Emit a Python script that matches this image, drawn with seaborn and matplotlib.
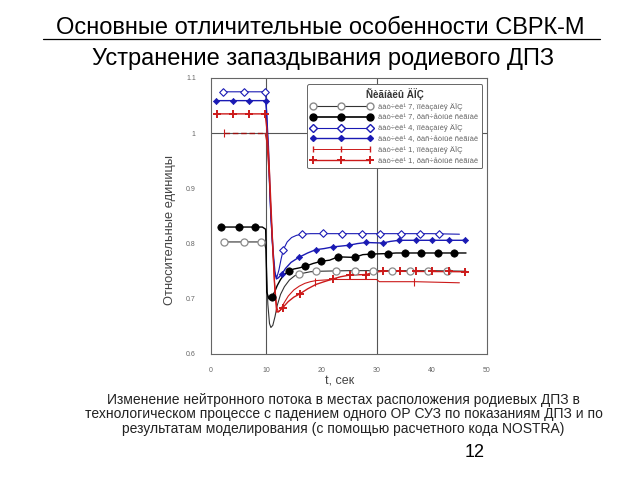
import matplotlib
matplotlib.use("Agg")
import matplotlib.pyplot as plt
from matplotlib.lines import Line2D
from matplotlib.ticker import MultipleLocator, FixedLocator, FixedFormatter
import seaborn as sns

sns.set_style("white")
plt.rcParams['font.family'] = ['Liberation Sans', 'DejaVu Sans']

# ---- data ----
legend_title = "Ñèãíàëû ÄÏÇ"
labels = ["äàò÷èê¹ 7, ïîêàçàíèÿ ÄÏÇ",
          "äàò÷èê¹ 7, ðàñ÷åòíûé ñèãíàë",
          "äàò÷èê¹ 4, ïîêàçàíèÿ ÄÏÇ",
          "äàò÷èê¹ 4, ðàñ÷åòíûé ñèãíàë",
          "äàò÷èê¹ 1, ïîêàçàíèÿ ÄÏÇ",
          "äàò÷èê¹ 1, ðàñ÷åòíûé ñèãíàë"]

t1 = [2.4, 9.6, 9.95, 10.1, 10.3, 10.6, 10.85, 11.2, 11.6, 12.0, 12.6, 13.3, 14.2, 15.2, 16.5, 18.0, 20.0, 25.0, 30.0, 35.0, 40.0, 46.2]
v1 = [0.803, 0.803, 0.790, 0.740, 0.690, 0.655, 0.648, 0.652, 0.668, 0.688, 0.708, 0.722, 0.734, 0.742, 0.746, 0.749, 0.750, 0.751, 0.751, 0.751, 0.751, 0.750]
m1t = [2.4, 5.9, 9.1, 16.0, 19.1, 22.6, 26.0, 29.4, 32.8, 36.0, 39.4, 42.7]
m1v = [0.803, 0.803, 0.803, 0.745, 0.750, 0.750, 0.750, 0.750, 0.751, 0.750, 0.750, 0.751]

t2 = [1.8, 9.3, 9.9, 10.0, 10.1, 10.5, 11.0, 11.5, 12.0, 12.6, 13.2, 14.0, 15.0, 16.0, 17.1, 18.5, 20.0, 21.5, 23.0, 26.0, 27.5, 29.0, 32.1, 33.5, 35.1, 46.2]
v2 = [0.830, 0.830, 0.826, 0.780, 0.712, 0.700, 0.703, 0.712, 0.724, 0.735, 0.743, 0.750, 0.754, 0.756, 0.759, 0.764, 0.768, 0.770, 0.776, 0.775, 0.780, 0.781, 0.782, 0.783, 0.783, 0.783]
m2t = [1.8, 5.0, 8.0, 11.0, 14.06, 17.1, 20.0, 23.0, 26.0, 29.0, 32.1, 35.1, 38.0, 41.1, 44.1]
m2v = [0.830, 0.830, 0.830, 0.703, 0.750, 0.759, 0.768, 0.776, 0.775, 0.781, 0.782, 0.783, 0.783, 0.783, 0.783]

t3 = [2.2, 9.8, 10.0, 10.3, 10.7, 11.1, 11.5, 11.9, 12.3, 12.7, 13.1, 13.8, 14.6, 15.5, 16.5, 18.0, 20.0, 25.0, 30.0, 35.0, 40.0, 45.0]
v3 = [1.075, 1.075, 1.060, 0.980, 0.880, 0.800, 0.750, 0.738, 0.752, 0.772, 0.789, 0.803, 0.811, 0.815, 0.817, 0.818, 0.818, 0.818, 0.818, 0.818, 0.818, 0.817]
m3t = [2.2, 6.0, 9.8, 13.0, 16.5, 20.2, 23.7, 27.3, 30.6, 34.4, 37.9, 41.3]
m3v = [1.075, 1.075, 1.075, 0.789, 0.818, 0.819, 0.818, 0.818, 0.818, 0.818, 0.818, 0.818]

t4 = [0.9, 9.9, 10.05, 10.4, 10.85, 11.3, 11.6, 11.85, 12.2, 12.85, 13.5, 14.5, 15.9, 17.5, 19.0, 20.5, 22.1, 25.0, 26.5, 28.1, 31.1, 32.5, 34.1, 46.1]
v4 = [1.059, 1.059, 1.040, 0.976, 0.849, 0.780, 0.746, 0.736, 0.738, 0.745, 0.755, 0.766, 0.775, 0.783, 0.789, 0.791, 0.794, 0.797, 0.800, 0.802, 0.801, 0.804, 0.806, 0.806]
m4t = [0.9, 3.9, 6.9, 9.9, 12.85, 15.9, 19.0, 22.1, 25.0, 28.1, 31.1, 34.1, 37.1, 40.1, 43.1, 46.1]
m4v = [1.059, 1.059, 1.059, 1.059, 0.745, 0.775, 0.789, 0.794, 0.797, 0.802, 0.801, 0.806, 0.806, 0.806, 0.806, 0.806]

t5 = [2.4, 9.8, 10.1, 10.5, 11.0, 11.5, 11.9, 12.2, 12.6, 13.2, 14.0, 15.0, 16.0, 17.0, 18.0, 19.0, 22.0, 26.0, 30.0, 30.5, 37.0, 45.0]
v5 = [1.000, 1.000, 0.985, 0.930, 0.830, 0.730, 0.685, 0.676, 0.680, 0.692, 0.705, 0.716, 0.723, 0.728, 0.731, 0.733, 0.735, 0.735, 0.735, 0.731, 0.731, 0.729]
m5t = [2.4, 18.9, 36.8]
m5v = [1.000, 0.731, 0.730]

t6 = [1.0, 9.8, 10.1, 10.5, 10.9, 11.3, 11.6, 11.9, 12.3, 13.0, 14.0, 15.0, 16.1, 17.5, 19.0, 20.5, 22.1, 23.5, 25.1, 28.1, 29.5, 31.2, 46.1]
v6 = [1.035, 1.035, 1.010, 0.950, 0.860, 0.770, 0.710, 0.676, 0.677, 0.684, 0.695, 0.703, 0.709, 0.718, 0.726, 0.731, 0.736, 0.740, 0.743, 0.744, 0.748, 0.750, 0.749]
m6t = [1.0, 3.9, 6.9, 9.8, 13.0, 16.1, 22.1, 25.1, 28.1, 31.2, 34.2, 37.1, 40.1, 43.1, 46.1]
m6v = [1.035, 1.035, 1.035, 1.035, 0.684, 0.709, 0.736, 0.743, 0.744, 0.750, 0.750, 0.750, 0.750, 0.750, 0.749]

x_ticks = [0, 10, 20, 30, 40, 50]
y_ticks = [0.6, 0.7, 0.8, 0.9, 1.0, 1.1]
y_tick_labels = ["0.6", "0.7", "0.8", "0.9", "1", "1.1"]

BLUE = "#1a1ab4"
RED = "#cc1a1a"
GRAY = "#8a8a8a"

fig = plt.figure(figsize=(6.4, 4.8), dpi=100)
ax = fig.add_axes([211/640, 1-354/480, 276/640, 276/480])

# grid lines (sparse, as in reference)
for gx in [10, 30]:
    ax.axvline(gx, color="#555555", lw=0.8, zorder=0)
ax.axhline(1.0, color="#555555", lw=0.8, zorder=0)

def draw(t, v, mt, mv, lcolor, lw, marker, mface, medge, ms, mlw, ls="-"):
    sns.lineplot(x=t, y=v, sort=False, estimator=None, color=lcolor, lw=lw, ax=ax, linestyle=ls, zorder=2)
    if not mt:
        return
    if marker in ("|", "+"):
        sns.scatterplot(x=mt, y=mv, marker=marker, color=medge, s=ms, linewidth=mlw, ax=ax, zorder=3)
    else:
        sns.scatterplot(x=mt, y=mv, marker=marker, facecolor=mface, edgecolor=medge, s=ms, linewidth=mlw, ax=ax, zorder=3)

draw(t1, v1, m1t, m1v, "#333333", 0.8, "o", "white", GRAY, 26, 0.9)
draw(t2, v2, m2t, m2v, "black", 1.0, "o", "black", "black", 28, 0.5)
draw(t3, v3, m3t, m3v, BLUE, 0.8, "D", "white", BLUE, 15, 0.8)
draw(t4, v4, m4t, m4v, BLUE, 1.0, "D", BLUE, BLUE, 10, 0.5)
draw(t5[1:], v5[1:], [], [], RED, 0.8, "|", "none", RED, 30, 0.8)
sns.lineplot(x=t5[:2], y=v5[:2], sort=False, estimator=None, color="#991010", lw=1.0, ax=ax, linestyle=(0, (4, 2)), zorder=2)
sns.scatterplot(x=m5t, y=m5v, marker="|", color=RED, s=40, linewidth=0.8, ax=ax, zorder=3)
draw(t6, v6, m6t, m6v, RED, 1.0, "+", "none", RED, 40, 1.4)

ax.set_xlim(0, 50)
ax.set_ylim(0.6, 1.1)
ax.xaxis.set_major_locator(FixedLocator(x_ticks))
ax.xaxis.set_minor_locator(MultipleLocator(5))
ax.yaxis.set_major_locator(FixedLocator(y_ticks))
ax.yaxis.set_major_formatter(FixedFormatter(y_tick_labels))
ax.yaxis.set_minor_locator(MultipleLocator(0.02))
ax.tick_params(which="major", direction="out", length=3, width=0.6, labelsize=5, colors="#666666", pad=8)
ax.tick_params(which="minor", direction="out", length=2, width=0.5, colors="#666666")
ax.tick_params(axis="x", pad=6)
for s in ax.spines.values():
    s.set_color("#666666")
    s.set_linewidth(0.8)

ax.set_xlabel("t, сек", fontsize=9, color="#444444")
ax.set_ylabel("Относительные единицы", fontsize=9.3, color="#444444")
ax.xaxis.set_label_coords(0.464, -0.101)
ax.yaxis.set_label_coords(-0.149, 0.45)
ax.xaxis.label.set_va("center")
ax.yaxis.label.set_va("center")

handles = [
    Line2D([], [], color="#333333", lw=0.8, marker="o", mfc="white", mec=GRAY, ms=5),
    Line2D([], [], color="black", lw=1.2, marker="o", mfc="black", mec="black", ms=5),
    Line2D([], [], color=BLUE, lw=0.8, marker="D", mfc="white", mec=BLUE, ms=4),
    Line2D([], [], color=BLUE, lw=1.0, marker="D", mfc=BLUE, mec=BLUE, ms=3),
    Line2D([], [], color=RED, lw=0.7, marker="|", mec=RED, ms=5),
    Line2D([], [], color=RED, lw=1.0, marker="+", mec=RED, mew=1.4, ms=6),
]
leg = ax.legend(handles, labels, title=legend_title, loc="upper right",
                bbox_to_anchor=(0.982, 0.978), borderaxespad=0, fontsize=5.5, title_fontsize=7,
                numpoints=3, handlelength=8.0, labelspacing=0.42, handletextpad=0.8,
                frameon=True, fancybox=True, framealpha=1, edgecolor="#666666",
                borderpad=0.5)
leg.get_title().set_fontweight("bold")
leg.get_title().set_color("#333333")
leg.get_frame().set_linewidth(0.7)
for tx in leg.get_texts():
    tx.set_color("#666666")

fig.text(0.5, 0.942, "Основные отличительные особенности СВРК-М", ha="center", va="center", fontsize=17, color="black")
# underline
fig.add_artist(Line2D([43/640, 600/640], [1-39/480, 1-39/480], color="black", lw=0.9))
fig.text(0.505, 0.877, "Устранение запаздывания родиевого ДПЗ", ha="center", va="center", fontsize=17, color="black")

cap = ("Изменение нейтронного потока в местах расположения родиевых ДПЗ в\n"
       "технологическом процессе с падением одного ОР СУЗ по показаниям ДПЗ и по\n"
       "результатам моделирования (с помощью расчетного кода NOSTRA)")
fig.text(0.537, 0.137, cap, ha="center", va="center", fontsize=10, color="#222222", linespacing=1.05)
fig.text(0.742, 0.057, "12", ha="center", va="center", fontsize=13, color="black")

fig.savefig("out.png", dpi=100)
